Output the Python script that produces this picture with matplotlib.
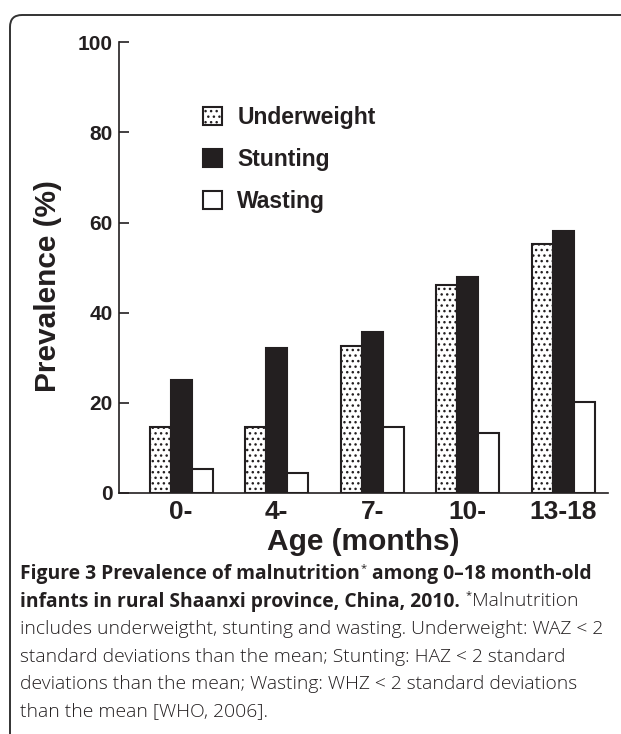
import numpy as np
import matplotlib
matplotlib.use("Agg")
import matplotlib.pyplot as plt
from matplotlib.patches import FancyBboxPatch

ages = ["0-", "4-", "7-", "10-", "13-18"]
underweight = [14.7, 14.7, 32.7, 46.2, 55.2]
stunting = [25.1, 32.2, 35.8, 48.0, 58.2]
wasting = [5.3, 4.4, 14.7, 13.4, 20.1]

ink = "#231f20"
plt.rcParams["font.family"] = ["Liberation Sans", "DejaVu Sans"]
plt.rcParams["hatch.linewidth"] = 1.0
plt.rcParams["hatch.color"] = ink

W, H = 621, 734
fig = plt.figure(figsize=(W / 100, H / 100), dpi=100)
ax = fig.add_axes([119 / W, (H - 493) / H, (608 - 119) / W, (493 - 42.3) / H])

x = np.arange(len(ages))
w = 0.22
b1 = ax.bar(x - w, underweight, w, color="white", edgecolor=ink, hatch="...", linewidth=1.5, label="Underweight")
b2 = ax.bar(x, stunting, w, color=ink, edgecolor=ink, linewidth=1.5, label="Stunting")
b3 = ax.bar(x + w, wasting, w, color="white", edgecolor=ink, linewidth=1.5, label="Wasting")

ax.set_xlim(-0.65, 4.47)
ax.set_ylim(0, 100)
ax.set_yticks([0, 20, 40, 60, 80, 100])
ax.set_xticks(x)
ax.set_xticklabels(ages, fontsize=19, fontweight="bold", color=ink)
ax.tick_params(axis="x", length=0, pad=5)
ax.tick_params(axis="y", direction="in", length=7.2, width=1.2, color=ink, pad=4.5, labelsize=15, labelcolor=ink)
for t in ax.get_yticklabels():
    t.set_fontweight("bold")
for s in ["top", "right"]:
    ax.spines[s].set_visible(False)
for s in ["left", "bottom"]:
    ax.spines[s].set_linewidth(1.2)
    ax.spines[s].set_color(ink)

ax.set_ylabel("Prevalence (%)", fontsize=21.5, fontweight="bold", color=ink)
ax.yaxis.set_label_coords(-0.117, 0.459)
ax.set_xlabel("Age (months)", fontsize=21.5, fontweight="bold", color=ink, labelpad=3)

ax.legend(handles=[b1, b2, b3], loc="upper left", bbox_to_anchor=(0.172, 0.858),
          frameon=False, prop={"size": 16.5, "weight": "bold"}, handlelength=0.82,
          handleheight=0.82, handletextpad=0.68, labelspacing=0.82,
          borderpad=0, borderaxespad=0, labelcolor=ink)

# frame around figure + caption
frame = FancyBboxPatch((10, -40), 700, H - 15 + 40, boxstyle="round,pad=0,rounding_size=12",
                       transform=None, fill=False, edgecolor="#333333", linewidth=1.4)
fig.patches.append(frame)

fig.canvas.draw()
r = fig.canvas.get_renderer()

def run(parts, x0, y0):
    xp = x0
    for txt, kw in parts:
        if txt == "*":
            t = fig.text(xp + 1, y0 + 8, "*", transform=None, fontsize=8, color=ink,
                         family="Open Sans", va="baseline")
        else:
            t = fig.text(xp, y0, txt, transform=None, color=ink, va="baseline",
                         family="Open Sans", **kw)
        xp = t.get_window_extent(r).x1

B = {"fontsize": 13.9, "fontweight": "bold"}
L = {"fontsize": 13.9, "fontweight": "light"}
lines = [
    [("Figure 3 Prevalence of malnutrition", B), ("*", None), (" among 0\u201318 month-old", B)],
    [("infants in rural Shaanxi province, China, 2010. ", B), ("*", None), ("Malnutrition", L)],
    [("includes underweigtht, stunting and wasting. Underweight: WAZ < 2", L)],
    [("standard deviations than the mean; Stunting: HAZ < 2 standard", L)],
    [("deviations than the mean; Wasting: WHZ < 2 standard deviations", L)],
    [("than the mean [WHO, 2006].", L)],
]
for i, ln in enumerate(lines):
    run(ln, 20, H - 579 - i * 27.5)

fig.savefig("out.png", dpi=100)
